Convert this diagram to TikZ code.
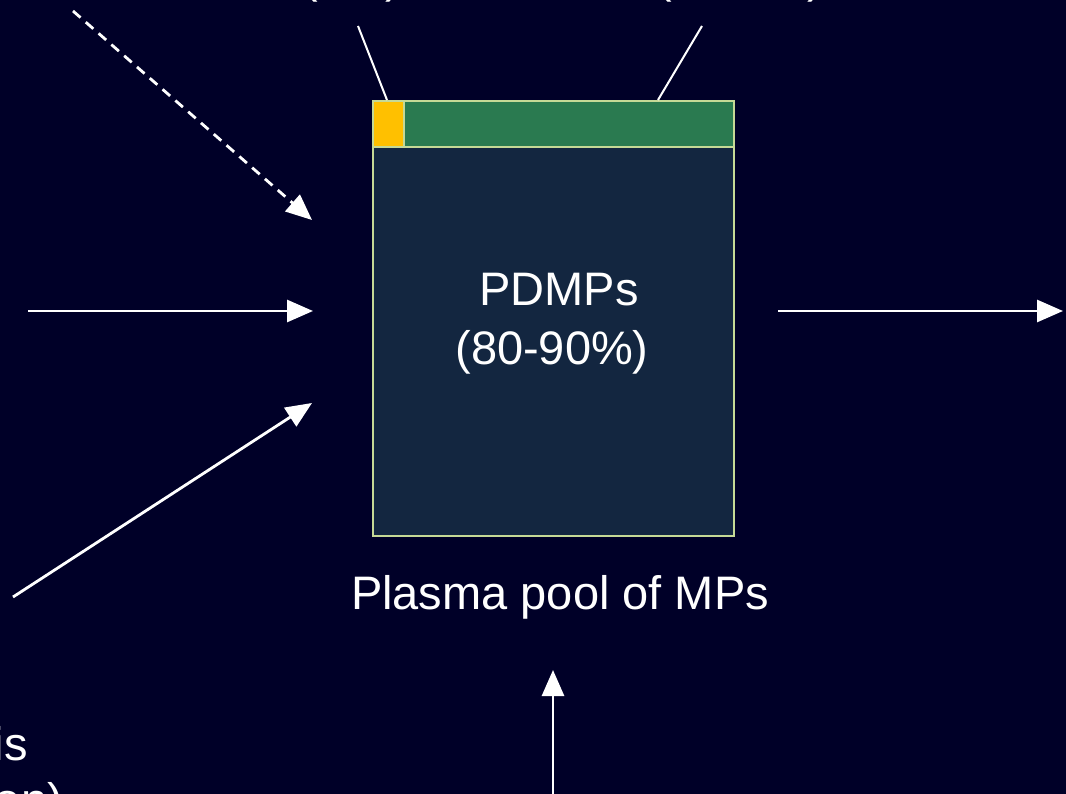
\documentclass[tikz,border=0pt]{standalone}
\usepackage{fontspec}
\setmainfont{Liberation Sans}
\usetikzlibrary{arrows.meta}
\definecolor{bgc}{RGB}{0,0,40}
\definecolor{boxc}{RGB}{19,38,64}
\definecolor{greenc}{RGB}{42,122,80}
\definecolor{yellowc}{RGB}{255,192,0}
\definecolor{borderc}{RGB}{197,217,150}
\begin{document}
\begin{tikzpicture}[x=1pt,y=-1pt,
  txt/.style={text=white,font=\fontsize{47}{58}\selectfont,inner sep=0pt},
  arr/.style={draw=white,line width=2.8pt,-{Triangle[length=26pt,width=22pt]}},
  darr/.style={arr,dash pattern=on 10pt off 7pt},
  pointer/.style={draw=white,line width=2pt},
  part/.style={draw=borderc,line width=2pt,inner sep=0pt,anchor=north west}]
\fill[bgc] (0,0) rectangle (1066,794);
\useasboundingbox (0,0) rectangle (1066,794);
\clip (0,0) rectangle (1066,794);
% pool box
\node[part,fill=boxc,minimum width=361pt,minimum height=435pt] (pool) at (372,100) {};
\node[part,fill=greenc,minimum width=361pt,minimum height=46pt] (hdr) at (372,100) {};
\node[part,fill=yellowc,minimum width=31pt,minimum height=46pt] (tf) at (372,100) {};
% texts
\node[txt,anchor=base] (pd1) at (559,306) {PDMPs};
\node[txt,anchor=base] (pd2) at (552,365) {(80-90\%)};
\node[txt,anchor=base] (lbl) at (560,609) {Plasma pool of MPs};
\node[txt,anchor=base] (topA) at (352,-7) {(1\%)};
\node[txt,anchor=base] (topB) at (740,-7) {(5-10\%)};
\node[txt,anchor=base east] (bl1) at (28,760) {is};
\node[txt,anchor=base east] (bl2) at (63,816) {on)};
% pointer lines
\coordinate (pa) at (358,26);
\coordinate (pae) at (387,100);
\coordinate (pb) at (702,26);
\coordinate (pbe) at (658,100);
\draw[pointer] (pa) -- (pae);
\draw[pointer] (pb) -- (pbe);
% arrows
\coordinate (dS) at (73,11);
\coordinate (dE) at (312,220);
\draw[darr] (dS) -- (dE);
\coordinate (hS) at (28,311);
\coordinate (hE) at (313,311);
\draw[arr] (hS) -- (hE);
\coordinate (gS) at (13,597);
\coordinate (gE) at (312,403);
\draw[arr] (gS) -- (gE);
\coordinate (rS) at (778,311);
\coordinate (rE) at (1063,311);
\draw[arr] (rS) -- (rE);
\coordinate (bS) at (553,800);
\coordinate (bE) at (553,670);
\draw[arr] (bS) -- (bE);
\end{tikzpicture}
\end{document}
